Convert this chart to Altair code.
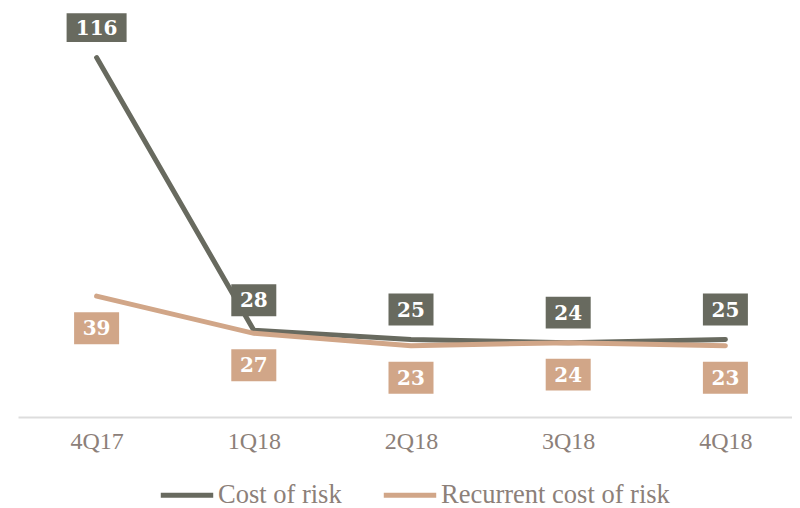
import altair as alt
import pandas as pd

quarters = ["4Q17", "1Q18", "2Q18", "3Q18", "4Q18"]
cost_of_risk = [116, 28, 25, 24, 25]
recurrent_cost = [39, 27, 23, 24, 23]
series_names = ["Cost of risk", "Recurrent cost of risk"]
colors = ["#686a5f", "#d1a688"]

rows = []
for q, a, b in zip(quarters, cost_of_risk, recurrent_cost):
    rows.append({"quarter": q, "value": a, "series": series_names[0], "label": str(a)})
    rows.append({"quarter": q, "value": b, "series": series_names[1], "label": str(b)})
df = pd.DataFrame(rows)

x = alt.X("quarter:N", sort=quarters, title=None,
          scale=alt.Scale(paddingInner=0, paddingOuter=0),
          axis=alt.Axis(labelAngle=0, ticks=False, domainColor="#dddddd", domainWidth=2,
                        labelFont="Liberation Serif", labelFontSize=24, labelColor="#8c8079",
                        labelPadding=12, grid=False))
y = alt.Y("value:Q", title=None, scale=alt.Scale(domain=[0, 132], nice=False, zero=True), axis=None)
color = alt.Color("series:N", sort=series_names,
                  scale=alt.Scale(domain=series_names, range=colors),
                  legend=alt.Legend(title=None, orient="none", direction="horizontal",
                                    legendX=140, legendY=458, padding=0, labelLimit=400,
                                    symbolType="stroke", symbolSize=2750, symbolStrokeWidth=5,
                                    labelFont="Liberation Serif", labelFontSize=26.5,
                                    labelColor="#8c8079", columnPadding=31, labelOffset=2))

base = alt.Chart(df)

lines = base.mark_line(strokeWidth=5, strokeCap="round").encode(x=x, y=y, color=color)

shape_wide = "M-1,-0.48H1V0.48H-1Z"
shape_narrow = "M-1,-0.71H1V0.71H-1Z"

def boxes(series, offset):
    return base.transform_filter(alt.datum.series == series).mark_point(
        filled=True, opacity=1, strokeWidth=0
    ).encode(
        x=x, y=y,
        yOffset=alt.value(offset),
        color=alt.Color("series:N", scale=alt.Scale(domain=series_names, range=colors), legend=None),
        shape=alt.condition("length(datum.label) > 2", alt.value(shape_wide), alt.value(shape_narrow)),
        size=alt.condition("length(datum.label) > 2", alt.value(3600), alt.value(2025)),
    )

def texts(series, offset):
    return base.transform_filter(alt.datum.series == series).mark_text(
        font="DejaVu Serif", fontSize=20, fontWeight="bold", color="white", dy=offset + 1
    ).encode(x=x, y=y, text="label:N")

chart = alt.layer(
    lines,
    boxes(series_names[0], -30), texts(series_names[0], -30),
    boxes(series_names[1], 32), texts(series_names[1], 32),
).properties(
    width=786, height=409,
    autosize=alt.AutoSizeParams(type="none"),
    padding={"left": 10, "right": -12, "top": 0, "bottom": 95},
).configure_view(stroke=None)

chart.save("out.html", embed_options={"renderer": "svg", "actions": False})
